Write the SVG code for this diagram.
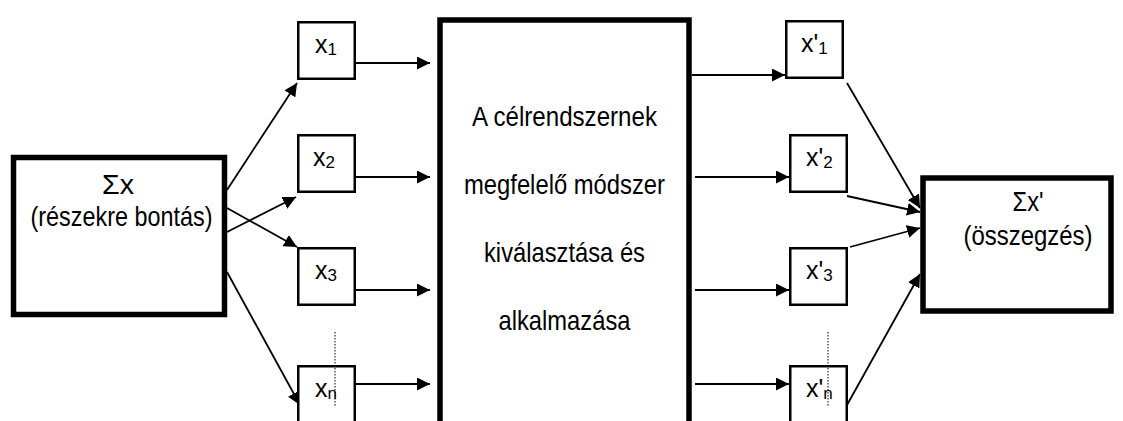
<svg xmlns="http://www.w3.org/2000/svg" width="1123" height="421" viewBox="0 0 1123 421">
<style>
.big{fill:#fff;stroke:#000;stroke-width:5.5}
.sm{fill:#fff;stroke:#000;stroke-width:2.5}
.t{font-family:"Liberation Sans",Arial,sans-serif;fill:#000}
.bt{font-size:28px;text-anchor:middle}
.lbl{font-size:25px}
.sub{font-size:17px}
.con line{stroke:#000;stroke-width:1.8;marker-end:url(#ah)}
.dot{stroke:#000;stroke-width:1;stroke-dasharray:1.5 1.5}
</style>
<defs>
<marker id="ah" viewBox="0 0 13 13" refX="13" refY="6.5" markerWidth="13" markerHeight="13" markerUnits="userSpaceOnUse" orient="auto">
<path d="M0,0 L13,6.5 L0,13 z" fill="#000"/>
</marker>
</defs>
<rect width="1123" height="421" fill="#fff"/>
<g id="connectors" class="con">
<line x1="227" y1="190" x2="297" y2="83"/>
<line x1="227" y1="208" x2="297" y2="247"/>
<line x1="227" y1="232" x2="296" y2="197"/>
<line x1="227" y1="272" x2="300" y2="405"/>
<line x1="356" y1="63" x2="430" y2="63"/>
<line x1="356" y1="177" x2="430" y2="177"/>
<line x1="355" y1="290" x2="430" y2="290"/>
<line x1="355" y1="384" x2="430" y2="384"/>
<line x1="692" y1="75" x2="785" y2="75"/>
<line x1="695" y1="177" x2="789" y2="177"/>
<line x1="695" y1="290" x2="789" y2="290"/>
<line x1="695" y1="384" x2="789" y2="384"/>
<line x1="847" y1="83" x2="920" y2="208"/>
<line x1="847" y1="196" x2="920" y2="212"/>
<line x1="850" y1="247" x2="920" y2="228"/>
<line x1="847" y1="405" x2="920" y2="274"/>
</g>
<g id="sum-left">
<rect class="big" x="13.5" y="157.5" width="211" height="157"/>
<text class="t bt" x="118" y="194" font-size="23" textLength="32" lengthAdjust="spacingAndGlyphs">Σx</text>
<text class="t bt" x="121.5" y="226" font-size="29" textLength="182" lengthAdjust="spacingAndGlyphs">(részekre bontás)</text>
</g>
<g id="method">
<rect class="big" x="440" y="20" width="249" height="420"/>
<text class="t bt" x="564.5" y="126" textLength="185" lengthAdjust="spacingAndGlyphs">A célrendszernek</text>
<text class="t bt" x="564.5" y="194" textLength="201" lengthAdjust="spacingAndGlyphs">megfelelő módszer</text>
<text class="t bt" x="564.5" y="262" textLength="161" lengthAdjust="spacingAndGlyphs">kiválasztása és</text>
<text class="t bt" x="564.5" y="330" textLength="132" lengthAdjust="spacingAndGlyphs">alkalmazása</text>
</g>
<g id="sum-right">
<rect class="big" x="923" y="178" width="188" height="133"/>
<text class="t bt" x="1028" y="211" font-size="23" textLength="31" lengthAdjust="spacingAndGlyphs">Σx'</text>
<text class="t bt" x="1028" y="245" font-size="29" textLength="129" lengthAdjust="spacingAndGlyphs">(összegzés)</text>
</g>
<g id="x1">
<rect class="sm" x="298.25" y="22.25" width="56.5" height="56.5"/>
<text class="t lbl" x="315" y="53">x<tspan class="sub" dy="2">1</tspan></text>
</g>
<g id="x2">
<rect class="sm" x="298.25" y="135.25" width="56.5" height="56.5"/>
<text class="t lbl" x="313" y="166">x<tspan class="sub" dy="2">2</tspan></text>
</g>
<g id="x3">
<rect class="sm" x="298.25" y="248.25" width="56.5" height="56.5"/>
<text class="t lbl" x="315" y="279">x<tspan class="sub" dy="2">3</tspan></text>
</g>
<g id="xn">
<rect class="sm" x="298.25" y="366.25" width="56.5" height="70"/>
<text class="t lbl" x="315" y="397">x<tspan class="sub" dy="2">n</tspan></text>
<line class="dot" x1="335" y1="332" x2="335" y2="407"/>
</g>
<g id="xp1">
<rect class="sm" x="786.25" y="21.25" width="56.5" height="56.5"/>
<text class="t lbl" x="801" y="52">x'<tspan class="sub" dy="2">1</tspan></text>
</g>
<g id="xp2">
<rect class="sm" x="790.25" y="135.25" width="56.5" height="56.5"/>
<text class="t lbl" x="806" y="166">x'<tspan class="sub" dy="2">2</tspan></text>
</g>
<g id="xp3">
<rect class="sm" x="790.25" y="248.25" width="56.5" height="56.5"/>
<text class="t lbl" x="806" y="279">x'<tspan class="sub" dy="2">3</tspan></text>
</g>
<g id="xpn">
<rect class="sm" x="790.25" y="366.25" width="56.5" height="70"/>
<text class="t lbl" x="806" y="397">x'<tspan class="sub" dy="2">n</tspan></text>
<line class="dot" x1="828" y1="332" x2="828" y2="407" stroke="#555"/>
</g>
</svg>
